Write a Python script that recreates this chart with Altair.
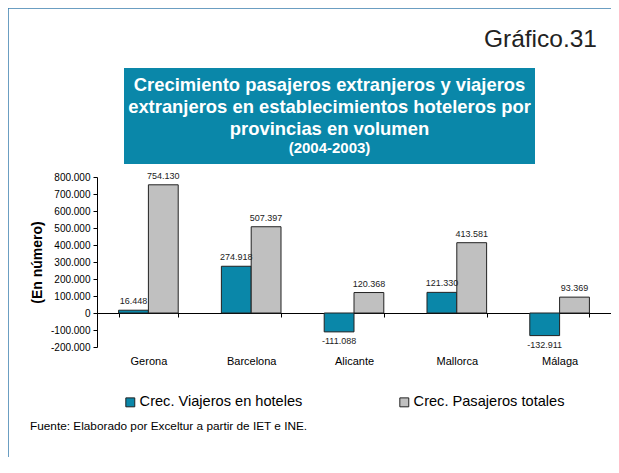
import altair as alt
import pandas as pd

provincias = ["Gerona", "Barcelona", "Alicante", "Mallorca", "Málaga"]
viajeros_hoteles = [16448, 274918, -111088, 121330, -132911]
pasajeros_totales = [754130, 507397, 120368, 413581, 93369]
series = ["Crec. Viajeros en hoteles", "Crec. Pasajeros totales"]
colores = ["#0a87a9", "#c0c0c0"]
y_ticks = [-200000, -100000, 0, 100000, 200000, 300000, 400000, 500000, 600000, 700000, 800000]
titulo = ["Crecimiento pasajeros extranjeros y viajeros",
          "extranjeros en establecimientos hoteleros por",
          "provincias en volumen"]
subtitulo = "(2004-2003)"
grafico = "Gráfico.31"
fuente = "Fuente: Elaborado por Exceltur a partir de IET e INE."
eje_y = "(En número)"

rows = []
for p, v1, v2 in zip(provincias, viajeros_hoteles, pasajeros_totales):
    for s, v in zip(series, [v1, v2]):
        rows.append({"prov": p, "serie": s, "valor": v,
                     "etiqueta": f"{v:,}".replace(",", ".")})
df = pd.DataFrame(rows)

FONT = "Liberation Sans"
W, H = 514, 170
PL, PT = 89, 169

x_enc = alt.X("prov:N", sort=provincias, title=None,
              scale=alt.Scale(paddingInner=0.42, paddingOuter=0.21),
              axis=alt.Axis(offset=-34, tickBand="extent", tickSize=4, tickColor="black",
                            domainColor="black", labelPadding=38, labelFontSize=11,
                            labelColor="black", labelAngle=0, labelFont=FONT, grid=False))
xoff = alt.XOffset("serie:N", sort=series, scale=alt.Scale(paddingInner=0, paddingOuter=0))
y_enc = alt.Y("valor:Q", title=eje_y,
              scale=alt.Scale(domain=[-200000, 800000], nice=False, zero=False),
              axis=alt.Axis(values=y_ticks, grid=False, tickSize=4, tickColor="black",
                            domainColor="black", labelPadding=3, labelFontSize=10,
                            labelColor="black", labelFont=FONT, labelOverlap=False,
                            labelExpr="replace(replace(format(datum.value, ',d'), regexp(',', 'g'), '.'), regexp('\u2212', 'g'), '-')",
                            titleFont=FONT, titleFontSize=14, titleFontWeight="bold",
                            titleColor="black", titlePadding=6))

base = alt.Chart(df)
bars = base.mark_bar(stroke="#222", strokeWidth=1).encode(
    x=x_enc, xOffset=xoff, y=y_enc,
    color=alt.Color("serie:N", sort=series, title=None,
                    scale=alt.Scale(domain=series, range=colores),
                    legend=alt.Legend(orient="none", legendX=26, legendY=218, direction="horizontal",
                                      symbolType="square", symbolSize=80, symbolStrokeColor="#222",
                                      symbolStrokeWidth=1, labelFontSize=14.6, labelFont=FONT,
                                      labelColor="black", columnPadding=94, labelOffset=2,
                                      labelLimit=400, padding=0)))
lab_pos = base.transform_filter("datum.valor >= 0").mark_text(
    baseline="bottom", dy=-4, fontSize=9, font=FONT, color="#222").encode(
    x=x_enc, xOffset=xoff, y=y_enc, text="etiqueta:N")
lab_neg = base.transform_filter("datum.valor < 0").mark_text(
    baseline="top", dy=5, fontSize=9, font=FONT, color="#222").encode(
    x=x_enc, xOffset=xoff, y=y_enc, text="etiqueta:N")

dummy = alt.Chart(pd.DataFrame({"a": [0]}))
frame_top = dummy.mark_rule(color="#3a7eae", strokeWidth=1.5).encode(
    x=alt.value(-PL), x2=alt.value(W + 10), y=alt.value(-PT))
frame_left = dummy.mark_rule(color="#3a7eae", strokeWidth=1.5).encode(
    x=alt.value(-PL), y=alt.value(-PT), y2=alt.value(H + 120))
box = dummy.mark_rect(color="#0a87a9").encode(
    x=alt.value(27), x2=alt.value(438), y=alt.value(-109), y2=alt.value(-13))
t_lines = []
for i, line in enumerate(titulo):
    t_lines.append(dummy.mark_text(text=line, fontSize=18.4, fontWeight="bold", font=FONT,
                                   color="white", align="center", baseline="middle").encode(
        x=alt.value(232.5), y=alt.value(-92 + 22 * i)))
sub = dummy.mark_text(text=subtitulo, fontSize=15, fontWeight="bold", font=FONT,
                      color="white", align="center", baseline="middle").encode(
    x=alt.value(232.5), y=alt.value(-29))
graf = dummy.mark_text(text=grafico, fontSize=24.5, font=FONT, color="#222",
                       align="right", baseline="alphabetic").encode(
    x=alt.value(500), y=alt.value(-130))
foot = dummy.mark_text(text=fuente, fontSize=11.8, font=FONT, color="black",
                       align="left", baseline="middle").encode(
    x=alt.value(-67), y=alt.value(249))

chart = alt.layer(frame_top, frame_left, box, *t_lines, sub, graf, foot,
                  bars, lab_pos, lab_neg).properties(
    width=W, height=H,
    background="white",
    autosize=alt.AutoSizeParams(type="none"),
    padding={"left": PL, "top": PT, "right": 0, "bottom": 110},
).configure_view(strokeWidth=0, stroke="transparent")

chart.save("out.html", embed_options={"renderer": "svg", "actions": False})
